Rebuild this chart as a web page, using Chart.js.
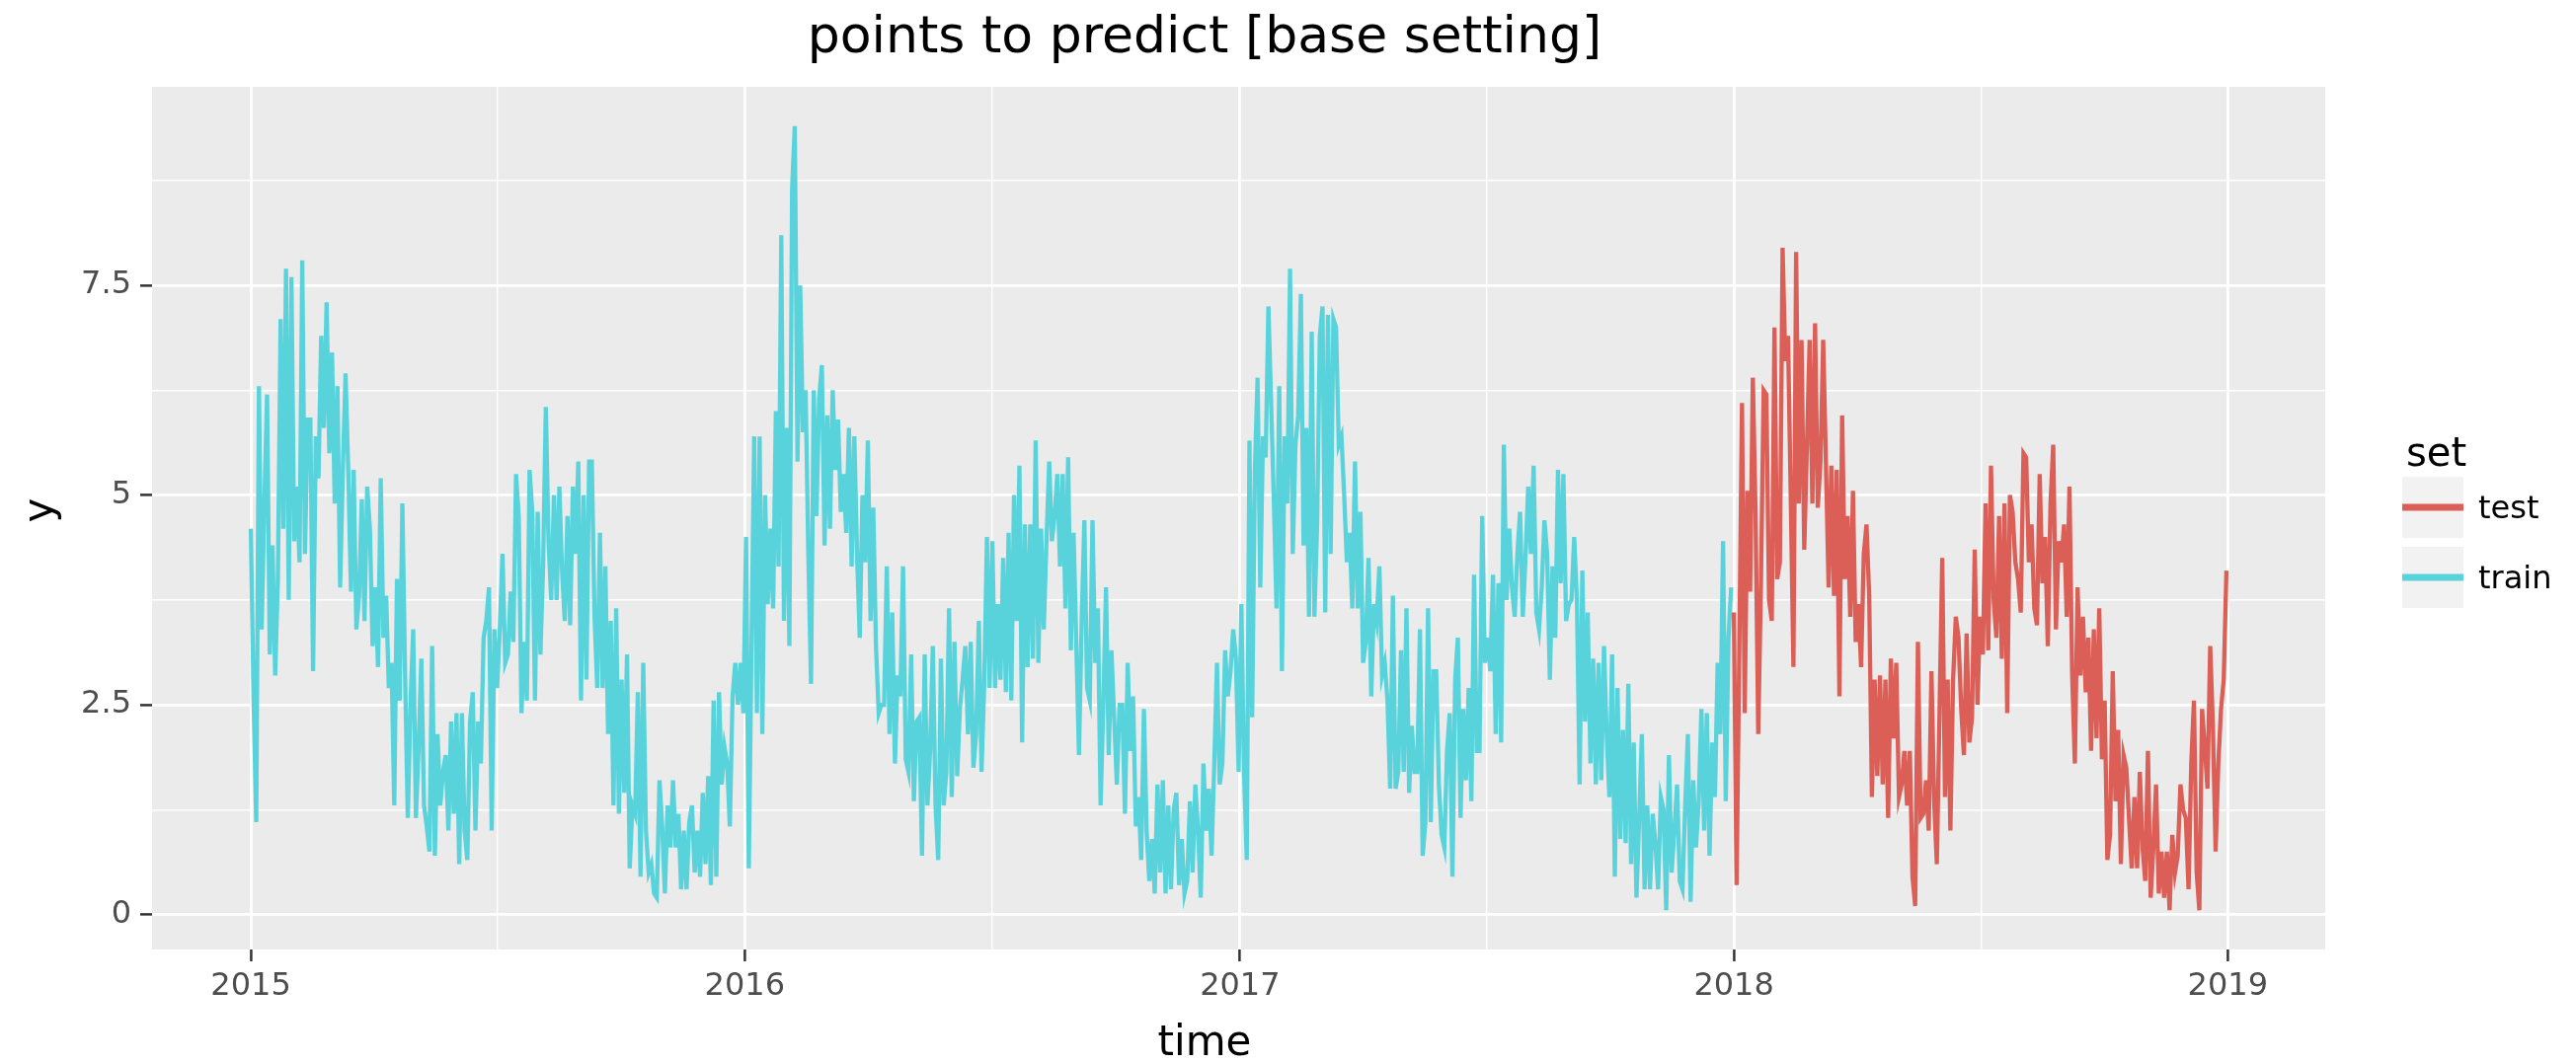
<!DOCTYPE html>
<html>
<head>
<meta charset="utf-8">
<script src="https://cdn.jsdelivr.net/npm/chart.js@4.4.1/dist/chart.umd.min.js"></script>
<style>
  html, body { margin: 0; padding: 0; background: #ffffff; }
  #wrap { width: 2609px; height: 1077px; }
</style>
</head>
<body>
<div id="wrap"><canvas id="c" width="2609" height="1077"></canvas></div>
<script>
// ---- chart text ----
const chartTitle = 'points to predict [base setting]';
const xAxisTitle = 'time';
const yAxisTitle = 'y';
const legendTitle = 'set';
const seriesNames = ['test', 'train'];

// ---- axis ticks ----
const yearTicks = ['2015', '2016', '2017', '2018', '2019'];
const yTicks = [0, 2.5, 5, 7.5];
const yTickLabels = ['0', '2.5', '5', '7.5'];

// ---- series: one reading every stepDays days, starting at the given date ----
const trainStart = '2015-01-01';
const testStart = '2018-01-01';
const stepDays = 2;

const trainValues = [
  4.6, 2.6, 1.1, 6.3, 3.4, 4.9, 6.2, 3.1, 4.4, 2.85,
  4.0, 7.1, 4.6, 7.7, 3.75, 7.6, 4.45, 5.1, 4.2, 7.8,
  4.3, 5.9, 5.9, 2.9, 5.7, 5.2, 6.9, 5.8, 7.3, 5.5,
  6.7, 4.9, 6.3, 3.9, 5.3, 6.45, 5.3, 3.85, 5.3, 3.4,
  3.8, 4.95, 3.5, 5.1, 4.6, 3.2, 3.9, 2.95, 5.2, 3.3,
  3.8, 2.7, 3.0, 1.3, 4.0, 2.55, 4.9, 2.85, 1.15, 2.5,
  3.4, 1.15, 2.0, 3.05, 1.3, 1.05, 0.75, 3.2, 0.7, 2.15,
  1.3, 1.7, 1.9, 1.0, 2.3, 1.2, 2.4, 0.6, 2.4, 1.0,
  0.65, 2.3, 2.65, 1.0, 2.3, 1.8, 3.3, 3.5, 3.9, 1.0,

  3.4, 2.7, 3.4, 4.3, 3.0, 3.1, 3.85, 3.25, 5.25, 4.75,
  2.4, 3.25, 2.55, 5.3, 4.8, 2.55, 4.8, 3.1, 4.15, 6.05,
  4.45, 3.75, 5.0, 3.75, 5.1, 4.1, 3.5, 4.75, 3.45, 5.1,
  4.3, 5.4, 2.55, 5.0, 2.8, 5.4, 5.4, 3.55, 2.7, 4.55,
  2.7, 4.15, 2.15, 3.5, 1.3, 3.65, 1.2, 2.8, 1.45, 3.1,
  0.55, 1.3, 1.2, 2.65, 0.45, 3.0, 1.0, 0.5, 0.6, 0.25,
  0.2, 1.6, 1.05, 0.25, 1.3, 0.8, 1.6, 0.8, 1.2, 0.3,
  1.0, 0.3, 1.1, 1.3, 0.5, 1.0, 0.45, 1.45, 0.6, 1.65,
  0.35, 2.55, 0.45, 2.65, 1.55, 2.0, 1.8, 1.05, 2.6, 3.0,
  2.5, 3.0,

  2.4, 4.5, 0.55, 3.2, 5.7, 2.4, 5.7, 2.15, 5.0, 3.7,
  4.6, 3.65, 6.0, 4.15, 8.1, 3.5, 5.8, 3.2, 8.65, 9.4,
  5.4, 7.5, 5.75, 6.25, 4.3, 2.75, 6.25, 4.75, 6.15, 6.55,
  4.4, 5.95, 4.6, 6.25, 5.3, 5.9, 4.8, 5.25, 4.55, 5.8,
  4.15, 5.7, 4.3, 3.3, 5.0, 4.2, 5.65, 3.5, 4.85, 3.2,
  2.4, 2.5, 2.5, 4.15, 2.15, 3.6, 1.8, 2.85, 2.6, 4.15,
  1.85, 1.7, 3.1, 1.35, 2.3, 2.35, 0.7, 3.1, 1.3, 1.95,
  3.2, 1.3, 0.65, 3.05, 1.3, 1.7, 3.65, 1.4, 3.25, 1.65,
  2.45, 2.8, 3.2, 2.15, 3.25, 1.75, 2.15, 3.5, 1.7, 2.75,
  4.5, 2.7,

  4.45, 2.7, 3.7, 2.8, 4.25, 2.65, 4.55, 2.55, 5.0, 3.5,
  5.35, 2.05, 4.65, 2.95, 4.65, 3.05, 5.65, 3.0, 4.6, 3.4,
  4.45, 5.4, 4.45, 4.75, 5.25, 4.15, 5.25, 3.65, 5.45, 3.15,
  4.55, 3.25, 1.9, 3.5, 4.7, 2.7, 2.55, 4.7, 3.0, 3.65,
  1.3, 2.5, 3.9, 1.9, 3.15, 2.35, 1.55, 2.5, 2.5, 1.2,
  3.0, 1.95, 2.6, 1.05, 1.4, 0.65, 2.45, 1.0, 0.4, 0.9,
  0.25, 1.55, 0.5, 1.6, 0.25, 1.3, 0.3, 1.25, 1.45, 0.35,
  0.9, 0.25, 0.4, 1.35, 0.5, 1.55, 1.0, 0.2, 1.8, 1.0,
  1.5, 0.7, 1.8, 3.0, 1.55, 1.8, 3.15, 2.6, 2.9, 3.4,
  3.05, 1.7,

  3.7, 1.7, 0.65, 5.65, 2.35, 5.3, 6.4, 3.9, 5.7, 5.45,
  7.25, 6.1, 4.95, 3.65, 6.3, 2.9, 5.7, 4.9, 7.7, 4.3,
  5.6, 5.95, 7.4, 4.4, 5.8, 3.55, 6.95, 3.55, 4.65, 6.9,
  7.25, 3.6, 7.15, 4.3, 7.1, 7.0, 5.6, 5.7, 5.0, 4.2,
  4.55, 3.65, 5.4, 3.65, 4.8, 3.0, 3.25, 4.25, 2.6, 3.7,
  3.5, 4.15, 2.85, 3.0, 2.55, 1.5, 3.8, 1.5, 1.7, 3.15,
  1.7, 3.65, 1.45, 2.25, 1.7, 1.7, 3.4, 0.7, 1.1, 3.65,
  1.1, 2.9, 2.9, 1.55, 0.95, 0.8, 1.95, 2.4, 0.45, 2.8,
  3.3, 1.15, 2.45, 1.6, 2.7, 1.35, 4.05, 1.95, 1.95, 4.75,
  3.0,

  3.3, 2.9, 4.05, 2.15, 3.95, 2.05, 5.6, 3.75, 4.6, 3.9,
  3.55, 4.3, 4.8, 3.55, 4.25, 5.1, 4.3, 5.35, 3.6, 3.4,
  3.9, 4.7, 4.3, 2.8, 4.15, 3.3, 5.3, 3.95, 5.25, 3.5,
  3.7, 3.75, 4.5, 3.75, 1.55, 4.1, 2.3, 3.6, 1.8, 3.05,
  1.55, 3.0, 1.6, 3.2, 2.15, 1.4, 3.1, 0.45, 2.7, 0.9,
  2.2, 0.85, 2.75, 0.6, 2.05, 0.2, 1.15, 2.15, 0.3, 1.3,
  0.3, 1.2, 0.85, 0.3, 1.4, 1.25, 0.05, 1.9, 0.5, 1.0,
  1.55, 0.4, 0.3, 1.3, 2.15, 0.15, 1.6, 0.8, 1.35, 2.45,
  1.0, 2.4, 0.7, 2.05, 1.4, 3.0, 2.15, 4.45, 1.35, 3.3,
  3.9
];

const testValues = [
  3.6, 0.35, 3.15, 6.1, 2.4, 5.05, 3.85, 6.4, 4.8, 2.15,
  3.95, 6.25, 6.2, 3.75, 3.5, 7.0, 4.0, 4.2, 7.95, 6.6,
  6.9, 5.0, 2.95, 7.9, 4.9, 6.85, 4.35, 5.6, 6.85, 4.9,
  7.05, 4.85, 5.4, 6.85, 5.4, 3.9, 5.35, 3.8, 5.3, 2.6,
  5.95, 4.0, 4.75, 3.55, 5.05, 3.25, 3.7, 2.95, 4.3, 4.65,
  3.8, 1.4, 2.8, 1.65, 2.85, 1.55, 2.8, 1.15, 3.05, 2.1,
  3.0, 1.4, 1.55, 1.95, 1.3, 1.95, 0.45, 0.1, 3.25, 1.15,
  1.2, 1.6, 1.0, 2.9, 1.35, 0.6, 2.45, 4.25, 1.4, 2.8,
  1.0, 2.8, 3.55, 3.3, 2.45, 1.9, 3.35, 2.05, 2.35, 4.35,
  2.5, 3.55, 3.1, 4.9,
  3.15, 5.35, 3.75, 3.3, 4.75, 3.05, 4.9, 2.4, 5.0, 4.8,
  4.2, 4.0, 3.6, 5.5, 5.45, 4.2, 4.65, 3.65, 3.45, 5.25,
  3.95, 4.5, 3.2, 4.9, 5.6, 3.4, 4.45, 4.2, 4.65, 3.55,
  5.1, 2.85, 1.8, 3.9, 2.85, 3.55, 2.65, 3.3, 1.95, 3.4,
  2.1, 3.65, 1.85, 2.55, 0.65, 0.95, 2.9, 1.35, 2.2, 0.6,
  1.9, 1.75, 1.15, 0.55, 1.4, 0.55, 1.7, 0.8, 0.4, 1.95,
  0.2, 0.8, 1.55, 0.25, 0.75, 0.2, 0.75, 0.05, 0.95, 0.5,
  0.7, 1.55, 1.25, 1.15, 0.3, 1.8, 2.55, 0.5, 0.05, 2.45,
  2.0, 1.5, 3.2, 2.25, 0.75, 1.8, 2.45, 2.8, 4.1
];

// ---- colours ----
const testColor = '#db5f57';
const trainColor = '#58d3db';
const FONT = '"DejaVu Sans", "Liberation Sans", sans-serif';
const LINE_W = 4.3;

// ---- date helpers: x is measured in days since the first year tick ----
const DAY_MS = 86400000;
const epoch = Date.UTC(Number(yearTicks[0]), 0, 1);
function dayOf(iso) {
  const [y, m, d] = iso.split('-').map(Number);
  return (Date.UTC(y, m - 1, d) - epoch) / DAY_MS;
}
const toPoints = (vals, start) => vals.map((v, i) => ({ x: dayOf(start) + i * stepDays, y: v }));
const trainPts = toPoints(trainValues, trainStart);
const testPts = toPoints(testValues, testStart);

// ---- scale limits with a 5% margin around the data ----
const allPts = trainPts.concat(testPts);
const xs = allPts.map(p => p.x), ys = allPts.map(p => p.y);
const xLo = Math.min(...xs), xHi = Math.max(...xs);
const yLo = Math.min(...ys), yHi = Math.max(...ys);
const xPad = (xHi - xLo) * 0.05, yPad = (yHi - yLo) * 0.05;

// major ticks at each new year, minor ticks half way between
const xMajor = yearTicks.map(y => dayOf(y + '-01-01'));
const xMinor = xMajor.slice(1).map((v, i) => (v + xMajor[i]) / 2);
const yStep = yTicks[1] - yTicks[0];
const yMinor = yTicks.map(v => v + yStep / 2).filter(v => v <= yHi + yPad);
const xTickValues = xMajor.concat(xMinor).sort((a, b) => a - b);
const yTickValues = yTicks.concat(yMinor).sort((a, b) => a - b);
const isMajorX = v => xMajor.some(m => Math.abs(m - v) < 1e-6);
const isMajorY = v => yTicks.some(m => Math.abs(m - v) < 1e-6);

// ---- panel background, titles and legend ----
const decorations = {
  id: 'decorations',
  beforeDraw(chart) {
    const { ctx, chartArea: a } = chart;
    ctx.save();
    ctx.fillStyle = '#ffffff';
    ctx.fillRect(0, 0, chart.width, chart.height);
    ctx.fillStyle = '#ebebeb';
    ctx.fillRect(a.left, a.top, a.right - a.left, a.bottom - a.top);
    ctx.restore();
  },
  afterDraw(chart) {
    const { ctx } = chart;
    ctx.save();
    ctx.fillStyle = '#000000';
    ctx.textBaseline = 'alphabetic';

    // title
    ctx.font = '52px ' + FONT;
    ctx.textAlign = 'center';
    ctx.fillText(chartTitle, 1220, 53);

    // axis titles
    ctx.font = '42px ' + FONT;
    ctx.fillText(xAxisTitle, 1220, 1069);
    ctx.save();
    ctx.translate(53, 517);
    ctx.rotate(-Math.PI / 2);
    ctx.fillText(yAxisTitle, 0, 0);
    ctx.restore();

    // legend
    ctx.textAlign = 'left';
    ctx.font = '40px ' + FONT;
    ctx.fillText(legendTitle, 2437, 472);
    const keyX = 2433, keyW = 62, keyTops = [483, 554];
    chart.data.datasets.forEach((ds, i) => {
      const top = keyTops[i];
      ctx.fillStyle = '#f2f2f2';
      ctx.fillRect(keyX, top, keyW, keyW);
      ctx.strokeStyle = ds.borderColor;
      ctx.lineWidth = 7;
      ctx.beginPath();
      ctx.moveTo(keyX, top + keyW / 2);
      ctx.lineTo(keyX + keyW, top + keyW / 2);
      ctx.stroke();
      ctx.fillStyle = '#000000';
      ctx.font = '32px ' + FONT;
      ctx.fillText(ds.label, 2510, top + keyW / 2 + 11);
    });
    ctx.restore();
  }
};

new Chart(document.getElementById('c'), {
  type: 'line',
  data: {
    datasets: [
      { label: seriesNames[0], data: testPts, borderColor: testColor, backgroundColor: testColor,
        borderWidth: LINE_W, pointRadius: 0, tension: 0, fill: false },
      { label: seriesNames[1], data: trainPts, borderColor: trainColor, backgroundColor: trainColor,
        borderWidth: LINE_W, pointRadius: 0, tension: 0, fill: false }
    ]
  },
  options: {
    responsive: false,
    animation: false,
    devicePixelRatio: 1,
    layout: { padding: { left: 0, right: 254, top: 88, bottom: 0 } },
    plugins: { legend: { display: false }, title: { display: false }, tooltip: { enabled: false } },
    scales: {
      x: {
        type: 'linear',
        min: xLo - xPad,
        max: xHi + xPad,
        afterBuildTicks: s => { s.ticks = xTickValues.map(v => ({ value: v })); },
        afterFit: s => { s.height = 115; },
        border: { display: false },
        grid: {
          color: '#ffffff',
          lineWidth: c => (c.tick && isMajorX(c.tick.value)) ? 2.8 : 1.4,
          drawTicks: true,
          tickLength: 12,
          tickWidth: 2.5,
          tickColor: c => (c.tick && isMajorX(c.tick.value)) ? '#333333' : 'rgba(0,0,0,0)'
        },
        ticks: {
          autoSkip: false,
          maxRotation: 0,
          padding: 6,
          color: '#4d4d4d',
          font: { family: FONT, size: 32 },
          callback: v => {
            const i = xMajor.findIndex(m => Math.abs(m - v) < 1e-6);
            return i >= 0 ? yearTicks[i] : '';
          }
        }
      },
      y: {
        type: 'linear',
        min: yLo - yPad,
        max: yHi + yPad,
        afterBuildTicks: s => { s.ticks = yTickValues.map(v => ({ value: v })); },
        afterFit: s => { s.width = 154; },
        border: { display: false },
        grid: {
          color: '#ffffff',
          lineWidth: c => (c.tick && isMajorY(c.tick.value)) ? 2.8 : 1.4,
          drawTicks: true,
          tickLength: 12,
          tickWidth: 2.5,
          tickColor: c => (c.tick && isMajorY(c.tick.value)) ? '#333333' : 'rgba(0,0,0,0)'
        },
        ticks: {
          autoSkip: false,
          padding: 9,
          color: '#4d4d4d',
          font: { family: FONT, size: 32 },
          callback: v => {
            const i = yTicks.findIndex(m => Math.abs(m - v) < 1e-6);
            return i >= 0 ? yTickLabels[i] : '';
          }
        }
      }
    }
  },
  plugins: [decorations]
});
</script>
</body>
</html>
